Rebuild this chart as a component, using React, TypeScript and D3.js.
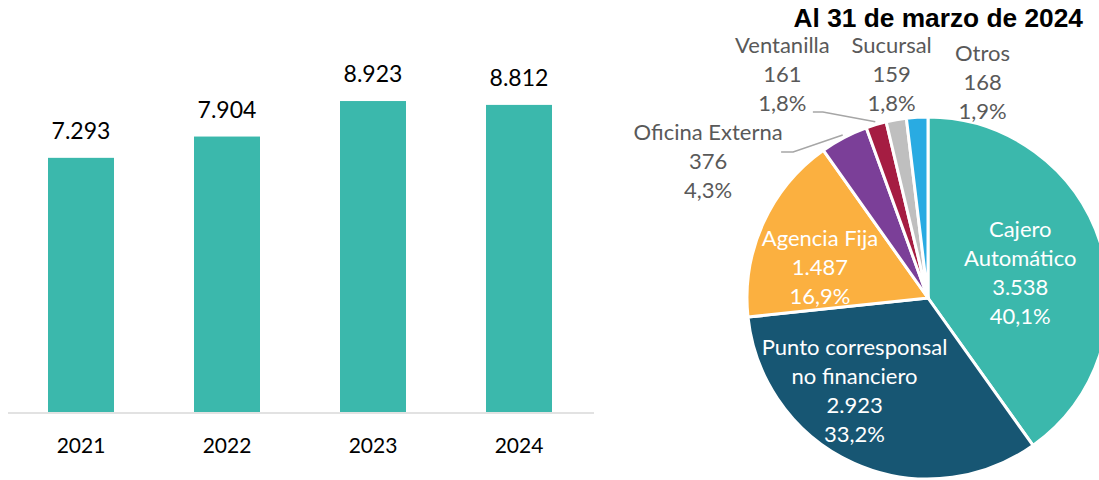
import * as React from "react";
import * as d3 from "d3";

// bar chart: yearly totals
const years = ["2021", "2022", "2023", "2024"];
const totals = [7293, 7904, 8923, 8812];

// pie: breakdown at 31 March 2024
const channels = [
  ["Cajero", "Automático"],
  ["Punto corresponsal", "no financiero"],
  ["Agencia Fija"],
  ["Oficina Externa"],
  ["Ventanilla"],
  ["Sucursal"],
  ["Otros"],
];
const channelValues = [3538, 2923, 1487, 376, 161, 159, 168];
const channelShares = ["40,1%", "33,2%", "16,9%", "4,3%", "1,8%", "1,8%", "1,9%"];
const channelColors = ["#3bb8ac", "#175673", "#fbb040", "#7b3f98", "#a51d42", "#bfbfbf", "#29abe2"];

const title = "Al 31 de marzo de 2024";

const fmt = (v: number) => d3.format(",")(v).replace(/,/g, ".");

// label placement: radius of the centroid, then a nudge
const placement = [
  { r: 100, dx: -3, dy: 5, inside: true },
  { r: 118, dx: -25, dy: -15, inside: true },
  { r: 112, dx: -6, dy: 15, inside: true },
  { r: 250, dx: -104, dy: 85, inside: false, leader: [73, 85, -9.5] },
  { r: 250, dx: -74, dy: 16, inside: false, leader: [30.5, 40.5, 37.5] },
  { r: 230, dx: 4, dy: 2, inside: false },
  { r: 225, dx: 68, dy: 9, inside: false },
];

const font = "Lato, 'Open Sans', sans-serif";

export default function App() {
  const W = 1099;
  const H = 480;

  const x = d3.scaleBand<string>().domain(years).range([8, 592]).paddingInner(0.548).paddingOuter(0.274);
  const y = d3.scaleLinear().domain([0, 10000]).range([412, 63.5]);

  const cx = 928;
  const cy = 298;
  const radius = 181;

  const pie = d3.pie<number>().sort(null).value((d) => d);
  const arcs = pie(channelValues);
  const arc = d3.arc<d3.PieArcDatum<number>>().innerRadius(0).outerRadius(radius);

  const lh = 29;
  const fs = 22;

  return (
    <svg width={W} height={H} style={{ position: "absolute", left: 0, top: 0, background: "#fff" }} fontFamily={font}>
      {/* bars */}
      <g>
        {years.map((yr, i) => (
          <rect key={yr} x={x(yr)} y={y(totals[i])} width={x.bandwidth()} height={y(0) - y(totals[i])} fill="#3bb8ac" />
        ))}
        <line x1={8} x2={594} y1={413} y2={413} stroke="#d9d9d9" strokeWidth={1.5} />
        {years.map((yr, i) => (
          <text key={"v" + yr} x={(x(yr) as number) + x.bandwidth() / 2} y={y(totals[i]) - 19} textAnchor="middle" fontSize={23} fill="#000">
            {fmt(totals[i])}
          </text>
        ))}
        {years.map((yr) => (
          <text key={"t" + yr} x={(x(yr) as number) + x.bandwidth() / 2} y={453} textAnchor="middle" fontSize={21} fill="#000">
            {yr}
          </text>
        ))}
      </g>

      {/* pie */}
      <g transform={`translate(${cx},${cy})`}>
        {arcs.map((a, i) => (
          <path key={i} d={arc(a) as string} fill={channelColors[i]} stroke="#fff" strokeWidth={3} strokeLinejoin="round" />
        ))}
        {arcs.map((a, i) => {
          const p = placement[i];
          const [px, py] = d3.arc<d3.PieArcDatum<number>>().innerRadius(p.r).outerRadius(p.r).centroid(a);
          const lx = px + p.dx;
          const ly = py + p.dy;
          const lines = [...channels[i], fmt(channelValues[i]), channelShares[i]];
          const n = lines.length;
          let leader = null;
          if (p.leader) {
            const [s0, s1] = d3.arc<d3.PieArcDatum<number>>().innerRadius(radius + 3).outerRadius(radius + 3).centroid(a);
            const [endX, elbowX, ey] = p.leader;
            leader = (
              <polyline
                points={`${lx + endX},${ly + ey} ${lx + elbowX},${ly + ey} ${s0},${s1}`}
                fill="none"
                stroke="#a6a6a6"
                strokeWidth={1.5}
              />
            );
          }
          return (
            <g key={"l" + i}>
              {leader}
              <text textAnchor="middle" fontSize={fs} fill={p.inside ? "#fff" : "#595959"}>
                {lines.map((t, j) => (
                  <tspan key={j} x={lx} y={ly + (j - (n - 1) / 2) * lh + 8}>
                    {t}
                  </tspan>
                ))}
              </text>
            </g>
          );
        })}
      </g>

      <text x={1083} y={27} textAnchor="end" fontFamily="'Liberation Sans', Arial, sans-serif" fontWeight="bold" fontSize={26.3} fill="#000">
        {title}
      </text>
    </svg>
  );
}
